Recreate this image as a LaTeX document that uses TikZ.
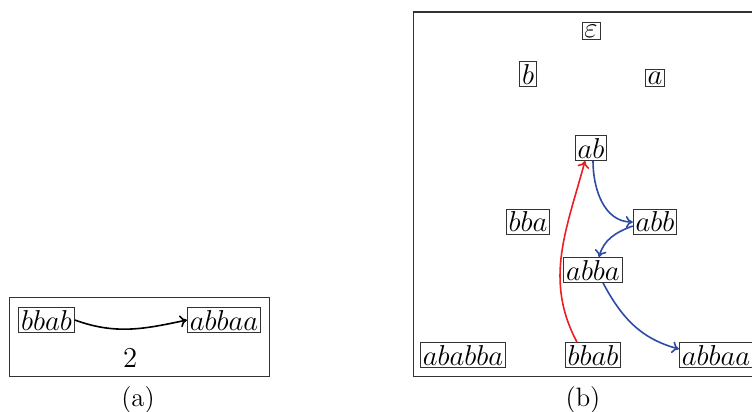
\documentclass[tikz,border=0pt]{standalone}
\usetikzlibrary{arrows.meta}
\definecolor{eblue}{RGB}{45,75,165}
\definecolor{ered}{RGB}{235,30,35}
\tikzset{
  w/.style={draw=black!80, rectangle, inner sep=1.2pt, line width=0.45pt, font=\fontsize{13.3}{16}\selectfont},
  frame/.style={draw=black!80, line width=0.5pt},
  captext/.style={font=\fontsize{13.3}{16}\selectfont},
  arr/.style={-{To[length=3.5pt,width=6pt]}, line width=0.8pt},
}
\begin{document}
\begin{tikzpicture}[x=0.5pt,y=-0.5pt]
\useasboundingbox (0,0) rectangle (752,412);
% (a)
\draw[frame] (10,297) rectangle (269,376);
\node[w] (abbab) at (46.5,320) {$bbab$};
\node[w] (aabbaa) at (224,320) {$abbaa$};
\draw[arr] (abbab.east) to[out=-20,in=192] node[below=6pt, captext] (alab) {$2$} (aabbaa.west);
\node[captext] (capa) at (138,400) {(a)};
% (b)
\draw[frame] (413,12) -- (413,376) -- (760,376);
\draw[frame] (413,12) -- (760,12);
\node[w] (eps) at (591,31) {$\varepsilon$};
\node[w, anchor=base] (b) at (528,84) {$b$};
\node[w, anchor=base] (a) at (655,84) {$a$};
\node[w] (ab) at (591,148) {$ab$};
\node[w] (bba) at (528,222) {$bba$};
\node[w] (abb) at (655,222) {$abb$};
\node[w] (abba) at (593,270) {$abba$};
\node[w] (ababba) at (463,355) {$ababba$};
\node[w] (bbab) at (593,355) {$bbab$};
\node[w] (abbaa) at (716,355) {$abbaa$};
\draw[arr, ered] ([xshift=-8pt]bbab.north) to[out=118,in=-105] ([xshift=-3pt]ab.south);
\draw[arr, eblue] ([xshift=1pt]ab.south) to[out=-90,in=180] (abb.west);
\draw[arr, eblue] ([yshift=-2pt]abb.west) to[out=200,in=75] ([xshift=3pt]abba.north);
\draw[arr, eblue] ([xshift=5pt]abba.south) to[out=-62,in=165] ([yshift=3pt]abbaa.west);
\node[captext] (capb) at (583,400) {(b)};
\end{tikzpicture}
\end{document}
